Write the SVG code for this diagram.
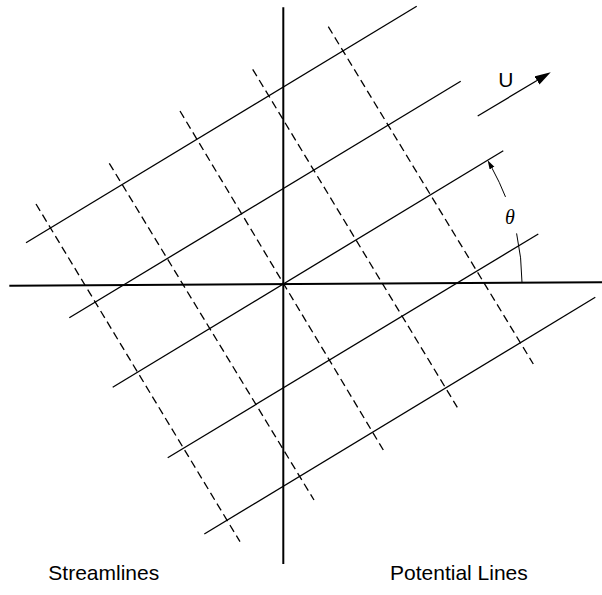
<svg xmlns="http://www.w3.org/2000/svg" width="602" height="595" viewBox="0 0 602 595">
  <style>
    .axis { stroke: #000; stroke-width: 2; fill: none; }
    .stream { stroke: #000; stroke-width: 1.3; fill: none; }
    .potential { stroke: #000; stroke-width: 1.3; fill: none; stroke-dasharray: 8 4.5; }
    .thin { stroke: #000; stroke-width: 1; fill: none; }
    .label { font-family: "Liberation Sans", Arial, sans-serif; font-size: 21px; fill: #000; }
    .sym { font-family: "Liberation Serif", "Times New Roman", serif; font-style: italic; font-size: 20px; fill: #000; }
  </style>
  <defs>
    <marker id="arrowBig" markerUnits="userSpaceOnUse" markerWidth="17" markerHeight="10" refX="0" refY="4.75" orient="auto">
      <path d="M0,0 L16,4.75 L0,9.5 z" fill="#000"/>
    </marker>
    <marker id="arrowSmall" markerUnits="userSpaceOnUse" markerWidth="10" markerHeight="6" refX="0" refY="2.7" orient="auto">
      <path d="M0,0 L9,2.7 L0,5.4 z" fill="#000"/>
    </marker>
  </defs>
  <rect width="602" height="595" fill="#fff"/>

  <g id="axes">
    <line class="axis" x1="283.3" y1="7.3" x2="283.3" y2="564"/>
    <line class="axis" x1="9.3" y1="285.7" x2="602" y2="282.3"/>
  </g>

  <g id="streamlines">
    <line class="stream" x1="26" y1="242.7" x2="416.7" y2="6.3"/>
    <line class="stream" x1="69.3" y1="317.7" x2="460.7" y2="81.3"/>
    <line class="stream" x1="112.7" y1="387.3" x2="503.3" y2="150.7"/>
    <line class="stream" x1="167.7" y1="457.7" x2="538.3" y2="234"/>
    <line class="stream" x1="204.3" y1="534" x2="595.3" y2="297.3"/>
  </g>

  <g id="potential-lines">
    <line class="potential" x1="36" y1="204" x2="240" y2="541.7"/>
    <line class="potential" x1="109.3" y1="163.3" x2="314" y2="500"/>
    <line class="potential" x1="180" y1="111" x2="383.3" y2="450"/>
    <line class="potential" x1="252.7" y1="69.3" x2="457.3" y2="407.3"/>
    <line class="potential" x1="328.3" y1="26.7" x2="533.3" y2="364"/>
  </g>

  <g id="velocity">
    <line class="stream" x1="477.7" y1="116" x2="537" y2="80.5" marker-end="url(#arrowBig)"/>
    <text class="label" x="498.3" y="86.7">U</text>
  </g>

  <g id="angle">
    <path class="thin" d="M522,282.6 A238.7,238.7 0 0 0 516.6,233.4"/>
    <path class="thin" d="M505.5,196.9 A238.7,238.7 0 0 0 492,168.15" marker-end="url(#arrowSmall)"/>
    <text class="sym" x="505" y="223.7">θ</text>
  </g>

  <g id="labels">
    <text class="label" x="48.3" y="580">Streamlines</text>
    <text class="label" x="390" y="580">Potential Lines</text>
  </g>
</svg>
